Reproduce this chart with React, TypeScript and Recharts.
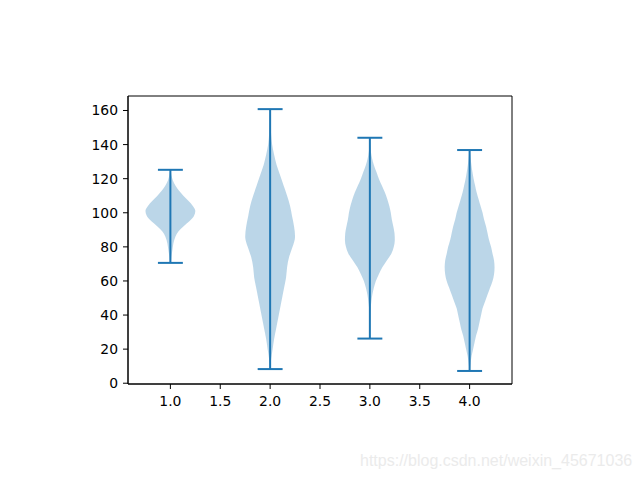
import { Area, ComposedChart, ReferenceArea, ReferenceLine, XAxis, YAxis } from 'recharts';

const positions = [1, 2, 3, 4];
const mins = [70.6, 8.3, 26.2, 7.2];
const maxs = [125.2, 160.8, 144.0, 136.8];
const xTicks = [1.0, 1.5, 2.0, 2.5, 3.0, 3.5, 4.0];
const yTicks = [0, 20, 40, 60, 80, 100, 120, 140, 160];

// kde outline: [value, relative width]
const profile1 = [
	[70.6, 0.5], [74, 1], [78, 2], [82, 3], [86, 5], [89, 8], [92, 13], [95, 19], [98, 23.5],
	[101, 25], [104, 22.5], [107, 18], [110, 13], [113, 8.5], [116, 5], [119, 2.5], [122, 1], [125.2, 0.3],
];
const profile2 = [
	[8.3, 0.3], [14, 1], [20, 2.5], [26, 4], [32, 6], [38, 8], [44, 10], [50, 12], [56, 14], [62, 16],
	[68, 17], [74, 19], [80, 22.5], [86, 25], [92, 24], [98, 22], [104, 20], [110, 17], [116, 13.5],
	[122, 10], [128, 6.5], [134, 4], [140, 2], [146, 1], [152, 0.5], [160.8, 0.2],
];
const profile3 = [
	[26.2, 0.1], [32, 0.2], [38, 0.4], [44, 0.8], [48, 1.5], [52, 2.5], [56, 4], [60, 6], [64, 9],
	[68, 12.5], [72, 17], [76, 21.5], [80, 24], [84, 25], [88, 24.7], [92, 23.5], [96, 22], [100, 21],
	[104, 19.5], [108, 17.5], [112, 15], [116, 12], [120, 9], [124, 6.5], [128, 4], [132, 2.2],
	[136, 1], [140, 0.4], [144, 0.2],
];
const profile4 = [
	[7.2, 0.2], [12, 1], [16, 2], [20, 3.5], [24, 5], [28, 6.5], [32, 8.5], [36, 10], [40, 11.5],
	[44, 13], [48, 15.5], [52, 18], [56, 20.5], [60, 23], [64, 24.5], [68, 25], [72, 24.5], [76, 23],
	[80, 21.5], [84, 19.5], [88, 18], [92, 16.5], [96, 14.5], [100, 13], [104, 11], [108, 9], [112, 7],
	[116, 5.5], [120, 4], [124, 2.8], [128, 1.8], [132, 1], [136.8, 0.3],
];
const profiles = [profile1, profile2, profile3, profile4];

const color = '#1f77b4';
const halfWidth = 0.25; // widths=0.5
const capHalf = 0.125;
const xDomain = [0.575, 4.425];
const yDomain = [-0.45, 168.5];
const font = { fontSize: 13.9, fill: '#000', fontFamily: 'DejaVu Sans' };

const rows = profiles.flatMap((p, k) => {
	const peak = Math.max(...p.map((d) => d[1]));
	return p.map(([y, d]) => ({
		y,
		k,
		band: [positions[k] - (halfWidth * d) / peak, positions[k] + (halfWidth * d) / peak],
	}));
});

export default function App() {
	return (
		<div style={{ position: 'absolute', left: 0, top: 0, width: 640, height: 480, background: '#fff' }}>
			<ComposedChart
				width={640}
				height={480}
				data={rows}
				layout="vertical"
				margin={{ top: 96, right: 128, bottom: 66, left: 78 }}
			>
				<XAxis
					type="number"
					domain={xDomain}
					ticks={xTicks}
					allowDataOverflow
					tickFormatter={(v) => v.toFixed(1)}
					height={30}
					tickSize={5}
					tickMargin={7}
					stroke="#000"
					tick={font}
				/>
				<YAxis
					type="number"
					dataKey="y"
					domain={yDomain}
					ticks={yTicks}
					reversed
					allowDataOverflow
					width={50}
					tickSize={5}
					tickMargin={5}
					stroke="#000"
					tick={font}
				/>
				{positions.map((pos, k) => (
					<Area
						key={'body' + k}
						type="monotone"
						dataKey={(r) => (r.k === k ? r.band : null)}
						stroke="none"
						fill={color}
						fillOpacity={0.3}
						dot={false}
						activeDot={false}
						isAnimationActive={false}
					/>
				))}
				{positions.map((pos, k) => (
					<ReferenceLine
						key={'bar' + k}
						segment={[{ x: pos, y: mins[k] }, { x: pos, y: maxs[k] }]}
						stroke={color}
						strokeWidth={2}
						ifOverflow="visible"
					/>
				))}
				{positions.map((pos, k) => (
					<ReferenceLine
						key={'min' + k}
						segment={[{ x: pos - capHalf, y: mins[k] }, { x: pos + capHalf, y: mins[k] }]}
						stroke={color}
						strokeWidth={2}
						ifOverflow="visible"
					/>
				))}
				{positions.map((pos, k) => (
					<ReferenceLine
						key={'max' + k}
						segment={[{ x: pos - capHalf, y: maxs[k] }, { x: pos + capHalf, y: maxs[k] }]}
						stroke={color}
						strokeWidth={2}
						ifOverflow="visible"
					/>
				))}
				<ReferenceArea
					x1={xDomain[0]}
					x2={xDomain[1]}
					y1={yDomain[0]}
					y2={yDomain[1]}
					fill="none"
					stroke="#000"
					strokeWidth={1}
					ifOverflow="visible"
				/>
			</ComposedChart>
			<div
				style={{
					position: 'absolute',
					left: 360,
					top: 452,
					fontFamily: 'Liberation Sans',
					fontSize: 16,
					lineHeight: 'normal',
					color: '#ebebeb',
					whiteSpace: 'nowrap',
				}}
			>
				https://blog.csdn.net/weixin_45671036
			</div>
		</div>
	);
}
